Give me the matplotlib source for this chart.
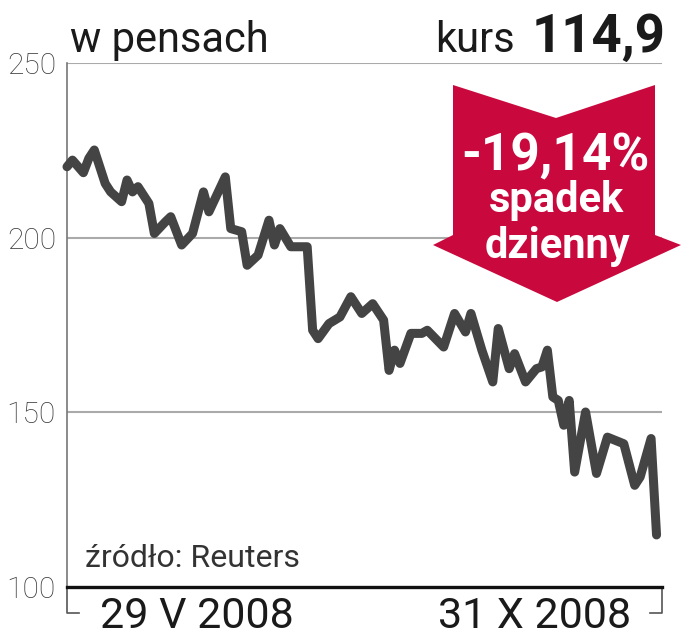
import matplotlib.pyplot as plt
from matplotlib.patches import Polygon

plt.rcParams['font.family'] = ['Roboto', 'DejaVu Sans']

# trading day index since 29 V 2008 and price in pence
days = [0, 1, 3, 4, 5, 7, 8, 10, 11, 12, 13, 15, 16, 18, 19, 21, 23, 25, 26,
        29, 30, 32, 33, 35, 37, 38, 39, 41, 44, 45, 46, 48, 50, 52, 54, 56,
        58, 59, 60, 61, 63, 65, 66, 69, 71, 73, 74, 76, 78, 79, 81, 82, 84,
        86, 87, 88, 89, 90, 91, 92, 93, 95, 97, 99, 102, 104, 105, 107, 108]
price = [220.3, 222.2, 218.6, 222.7, 225.1, 215.5, 213.1, 210.3, 216.5, 213.1,
         214.6, 209.8, 201.2, 204.5, 206.0, 197.9, 201.2, 213.1, 207.4, 217.4,
         202.6, 201.7, 192.1, 195.0, 205.0, 197.9, 202.6, 197.4, 197.4, 173.5,
         171.1, 175.4, 177.3, 183.1, 178.3, 181.1, 176.4, 162.0, 167.8, 164.0,
         172.6, 172.6, 173.5, 168.7, 178.3, 173.0, 178.3, 167.8, 158.7, 174.0,
         162.5, 166.8, 158.7, 162.5, 163.0, 167.8, 154.4, 153.4, 146.3, 153.4,
         132.9, 150.1, 132.5, 142.9, 141.0, 129.1, 131.5, 142.5, 114.9]

yticks = [100, 150, 200, 250]
date_labels = ['29 V 2008', '31 X 2008']
last_price = '114,9'
change_text = ['-19,14%', 'spadek', 'dzienny']

fig = plt.figure(figsize=(6.82, 6.40), dpi=100)
ax = fig.add_axes([67/682, 1 - 587/640, 595/682, 524/640])

# gridlines
for v in yticks[1:]:
    ax.axhline(v, color='#aaaaaa', lw=1.5, zorder=1)

ax.plot(days, price, color='#444444', lw=6.5, solid_capstyle='round',
        solid_joinstyle='round', zorder=3, clip_on=False)

ax.set_xlim(0, 109)
ax.set_ylim(100, 250)
ax.set_xticks([])
ax.set_yticks(yticks)
ax.set_yticklabels([str(v) for v in yticks], fontsize=21.5, color='#3a3a3a',
                   fontweight='light')
ax.tick_params(axis='y', length=0, pad=8)

for s in ['top', 'right']:
    ax.spines[s].set_visible(False)
ax.spines['left'].set_color('#777777')
ax.spines['left'].set_linewidth(1.2)
ax.spines['bottom'].set_color('#111111')
ax.spines['bottom'].set_linewidth(2.4)
ax.spines['bottom'].set_zorder(4)

# bracket under the axis
by = -26/524
ax.plot([0, 0, 12/595], [0, by, by], color='#555555', lw=1.2,
        transform=ax.transAxes, clip_on=False)
ax.plot([1, 1, 1 - 12/595], [0, by, by], color='#555555', lw=1.2,
        transform=ax.transAxes, clip_on=False)

ax.text(0.2185, -41/524, date_labels[0], transform=ax.transAxes, ha='center',
        va='baseline', fontsize=31, color='#1a1a1a')
ax.text(0.785, -41/524, date_labels[1], transform=ax.transAxes, ha='center',
        va='baseline', fontsize=31, color='#1a1a1a')

ax.text(18/595, 20/524, 'źródło: Reuters', transform=ax.transAxes,
        ha='left', va='baseline', fontsize=23, color='#333333')

# header
fig.text(70/682, 1 - 52/640, 'w pensach', ha='left', va='baseline',
         fontsize=30, color='#1a1a1a')
fig.text(515/682, 1 - 52/640, 'kurs', ha='right', va='baseline',
         fontsize=30, color='#1a1a1a')
fig.text(666/682, 1 - 52/640, last_price, ha='right', va='baseline',
         fontsize=38, fontweight='bold', color='#1a1a1a')

# red arrow
pts = [(453, 85), (556, 118), (655, 85), (655, 235), (681, 245),
       (557, 302), (433, 245), (453, 235)]
arrow = Polygon([(x/682, 1 - y/640) for x, y in pts], closed=True,
                facecolor='#c9093d', edgecolor='none',
                transform=fig.transFigure, zorder=5)
fig.add_artist(arrow)

fig.text(555/682, 1 - 170/640, change_text[0], ha='center', va='baseline',
         fontsize=37, fontweight='bold', color='white', zorder=6)
fig.text(556/682, 1 - 212/640, change_text[1], ha='center', va='baseline',
         fontsize=30, fontweight='bold', color='white', zorder=6)
fig.text(557/682, 1 - 258/640, change_text[2], ha='center', va='baseline',
         fontsize=30, fontweight='bold', color='white', zorder=6)

fig.savefig('out.png', dpi=100)
